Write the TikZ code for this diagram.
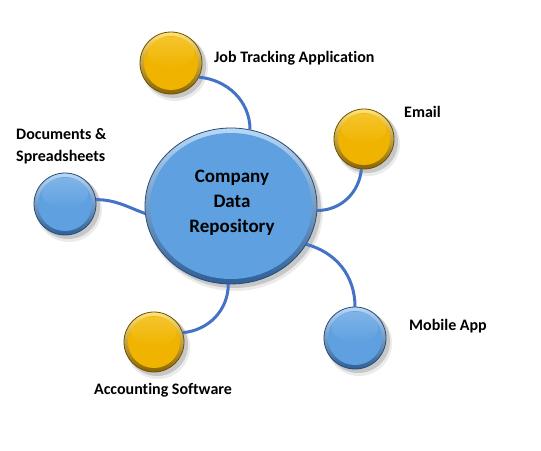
\documentclass[tikz,border=0pt]{standalone}
\usepackage{fontspec}
\setmainfont{Carlito}[Ligatures=NoCommon]
\usetikzlibrary{shapes.geometric,calc}
\definecolor{blueF}{HTML}{5FA0E0}
\definecolor{blueL}{HTML}{B8D8F6}
\definecolor{blueD}{HTML}{2F5F96}
\definecolor{goldF}{HTML}{F0B400}
\definecolor{goldL}{HTML}{FFE27A}
\definecolor{goldD}{HTML}{8A6400}
\definecolor{lineC}{HTML}{4472C4}
\tikzset{
  lbl/.style={font=\bfseries\fontsize{16}{22}\selectfont, text=black, inner sep=0pt},
  conn/.style={draw=lineC, line width=3pt},
}
% bevelled ball: #1 name, #2 centre, #3 radius, #4 base, #5 light, #6 dark
\newcommand{\ballnode}[6]{%
  \fill[black, opacity=0.15] ($#2+(3,3)$) circle (#3+1);
  \fill[black, opacity=0.08] ($#2+(4,5)$) circle (#3+2);
  \shade[top color=#5, bottom color=#6, draw=#6!80!black, line width=0.8pt] #2 circle (#3);
  \fill[#4] #2 circle (#3-4);
  \shade[top color=#5!60!#4, bottom color=#4, opacity=0.6] ($#2+(0,-#3*0.35)$) ellipse ({#3*0.75} and {#3*0.5});
  \node[circle, minimum size=2*#3 pt, inner sep=0pt] (#1) at #2 {};
}
\begin{document}
\begin{tikzpicture}[x=1pt,y=-1pt]
\useasboundingbox[fill=white] (0,0) rectangle (541,450);
% central repository
\fill[black, opacity=0.15] (234,209) ellipse (87 and 79);
\fill[black, opacity=0.08] (235,211) ellipse (88 and 80);
\shade[top color=blueL, bottom color=blueD, draw=blueD!80!black, line width=0.8pt] (231,206) ellipse (86 and 78);
\fill[blueF] (231,206) ellipse (81 and 73);
\node[ellipse, minimum width=172pt, minimum height=156pt, inner sep=0pt] (repo) at (231,206) {};
\node[font=\bfseries\fontsize{19}{25}\selectfont, align=center, inner sep=0pt] (repotxt) at (232,203) {Company\\Data\\Repository};
% satellites
\ballnode{job}{(171,63)}{31}{goldF}{goldL}{goldD}
\ballnode{email}{(364,139)}{30}{goldF}{goldL}{goldD}
\ballnode{docs}{(65,204)}{31}{blueF}{blueL}{blueD}
\ballnode{acct}{(154,342)}{30}{goldF}{goldL}{goldD}
\ballnode{mob}{(355,338)}{31}{blueF}{blueL}{blueD}
% connectors
\draw[conn] (job.-27) to[out=-5,in=90] (repo.76);
\draw[conn] (email.-95) to[out=-95,in=0] (repo.-3);
\draw[conn] (docs.8) to[out=0,in=160] (repo.185);
\draw[conn] (acct.18) to[out=5,in=-90] (repo.-92);
\draw[conn] (repo.-27) to[out=-15,in=90] (mob.north);
% labels
\node[lbl, anchor=west] (joblbl) at (214,58) {Job Tracking Application};
\node[lbl, anchor=west] (emaillbl) at (404,112) {Email};
\node[lbl, anchor=west, align=left] (docslbl) at (16,146) {Documents \&\\Spreadsheets};
\node[lbl] (acctlbl) at (163,390) {Accounting Software};
\node[lbl, anchor=west] (moblbl) at (409,326) {Mobile App};
\end{tikzpicture}
\end{document}
